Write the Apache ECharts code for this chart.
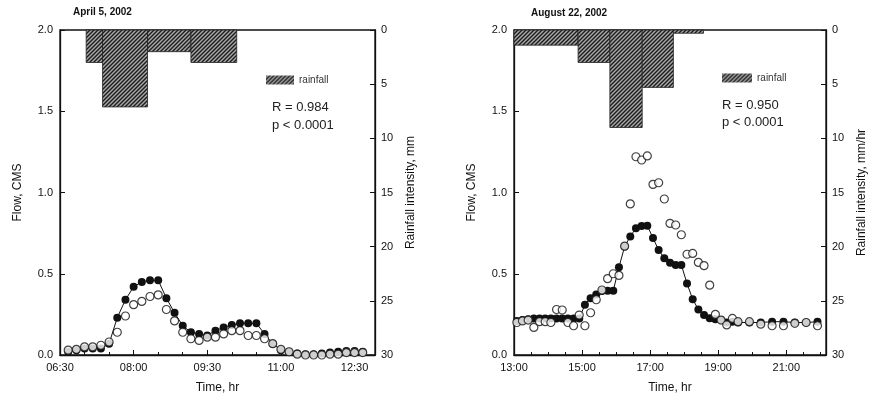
<!DOCTYPE html>
<html><head><meta charset="utf-8">
<script src="https://cdn.jsdelivr.net/npm/echarts@6/dist/echarts.min.js"></script>
<style>html,body{margin:0;padding:0;background:#fff}#c{width:872px;height:400px}</style>
</head><body><div id="c"></div>
<script>
// ---------- data ----------
const leftTimes = ['06:40','06:50','07:00','07:10','07:20','07:30','07:40','07:50','08:00','08:10','08:20','08:30','08:40','08:50','09:00','09:10','09:20','09:30','09:40','09:50','10:00','10:10','10:20','10:30','10:40','10:50','11:00','11:10','11:20','11:30','11:40','11:50','12:00','12:10','12:20','12:30','12:40'];
const leftFilled = [0.02,0.03,0.04,0.04,0.04,0.07,0.23,0.34,0.42,0.45,0.46,0.46,0.35,0.26,0.18,0.14,0.13,0.12,0.15,0.17,0.185,0.195,0.195,0.195,0.13,0.07,0.03,0.02,0.01,0.005,0.005,0.01,0.015,0.02,0.025,0.025,0.02];
const leftOpen = [0.03,0.035,0.05,0.05,0.06,0.08,0.14,0.24,0.31,0.33,0.36,0.37,0.28,0.21,0.14,0.10,0.09,0.11,0.11,0.13,0.15,0.15,0.12,0.12,0.10,0.07,0.035,0.02,0.005,0,0,0,0.005,0.005,0.015,0.015,0.015];
const leftRainStart = ['07:02','07:22','08:17','09:10'];
const leftRainEnd = ['07:22','08:17','09:10','10:06'];
const leftRain = [3, 7.1, 2, 3];

const rightTimes = ['13:05','13:15','13:25','13:35','13:45','13:55','14:05','14:15','14:25','14:35','14:45','14:55','15:05','15:15','15:25','15:35','15:45','15:55','16:05','16:15','16:25','16:35','16:45','16:55','17:05','17:15','17:25','17:35','17:45','17:55','18:05','18:15','18:25','18:35','18:45','18:55','19:05','19:15','19:25','19:35','19:55','20:15','20:35','20:55','21:15','21:35','21:55'];
const rightOpen = [0.20,0.21,0.215,0.17,0.205,0.205,0.20,0.28,0.277,0.20,0.18,0.246,0.18,0.26,0.34,0.40,0.47,0.50,0.49,0.67,0.93,1.22,1.20,1.225,1.05,1.06,0.96,0.81,0.80,0.74,0.62,0.625,0.57,0.55,0.43,0.25,0.215,0.185,0.225,0.205,0.205,0.19,0.18,0.18,0.195,0.20,0.18];
const rightFilled = [0.21,0.215,0.22,0.225,0.225,0.225,0.225,0.225,0.225,0.225,0.225,0.225,0.31,0.35,0.373,0.394,0.396,0.396,0.54,0.667,0.73,0.78,0.794,0.796,0.72,0.646,0.595,0.568,0.554,0.554,0.44,0.343,0.28,0.246,0.226,0.22,0.215,0.20,0.205,0.20,0.20,0.20,0.205,0.205,0.20,0.20,0.205];
const rightRainStart = ['13:00','14:53','15:49','16:46','17:41'];
const rightRainEnd = ['14:53','15:49','16:46','17:41','18:34'];
const rightRain = [1.4, 3.0, 9.0, 5.3, 0.3];

const flowTicks = [0, 0.5, 1.0, 1.5, 2.0];
const rainTicks = [0, 5, 10, 15, 20, 25, 30];

// ---------- helpers ----------
const F = '"Liberation Sans", Arial, sans-serif';
function toMin(t){const p=t.split(':').map(Number);return p[0]*60+p[1];}
function fmt(m){const h=Math.floor(m/60), mm=m%60;return String(h).padStart(2,'0')+':'+String(mm).padStart(2,'0');}
const L0 = toMin('06:30'), R0 = toMin('13:00');

const pc = document.createElement('canvas'); pc.width = 4; pc.height = 4;
const g = pc.getContext('2d');
g.fillStyle = '#a8a8a8'; g.fillRect(0,0,4,4);
g.strokeStyle = '#1c1c1c'; g.lineWidth = 1.4; g.beginPath();
g.moveTo(0,4); g.lineTo(4,0); g.moveTo(-1,1); g.lineTo(1,-1); g.moveTo(3,5); g.lineTo(5,3); g.stroke();
const hatch = {image: pc, repeat: 'repeat'};

function rainItem(params, api){
  const a = api.coord([api.value(0), 0]);
  const b = api.coord([api.value(1), api.value(2)]);
  return {type:'rect', shape:{x:a[0], y:a[1], width:b[0]-a[0], height:b[1]-a[1]},
          style:{fill:hatch, stroke:'#222', lineWidth:0.8}};
}

const axLine = {show:true, onZero:false, lineStyle:{color:'#111', width:1.3}};
const tick = {show:true, inside:true, length:5, lineStyle:{color:'#111', width:1}};
const lab = (m)=>({color:'#111', fontSize:11, fontFamily:F, margin:m});
const nameStyle = {color:'#111', fontSize:12, fontFamily:F};

function xAx(grid, max, step, split, base){
  return {type:'value', gridIndex:grid, min:0, max:max, interval:step,
    axisLine:axLine, axisTick:tick, splitLine:{show:false},
    minorTick:{show:true, splitNumber:split, length:3, lineStyle:{color:'#111'}},
    axisLabel:Object.assign(lab(7), {showMaxLabel:false, formatter:v=> (v % step === 0 ? fmt(base+v) : '')}),
    name:'Time, hr', nameLocation:'middle', nameGap:27, nameTextStyle:nameStyle};
}
function flowAx(grid){
  return {type:'value', gridIndex:grid, min:0, max:2, interval:0.5, position:'left',
    axisLine:axLine, axisTick:tick, splitLine:{show:false},
    axisLabel:Object.assign(lab(7), {formatter:v=> (flowTicks.indexOf(v)>=0 ? v.toFixed(1) : '')}),
    name:'Flow, CMS', nameLocation:'middle', nameGap:36, nameTextStyle:nameStyle};
}
function rainAx(grid, nm){
  return {type:'value', gridIndex:grid, min:0, max:30, interval:5, inverse:true, position:'right',
    axisLine:axLine, axisTick:tick, splitLine:{show:false},
    axisLabel:Object.assign(lab(6), {formatter:v=> (rainTicks.indexOf(v)>=0 ? String(v) : '')}),
    name:nm, nameLocation:'middle', nameGap:30, nameTextStyle:nameStyle};
}

const chart = echarts.init(document.getElementById('c'), null, {renderer:'canvas'});
chart.setOption({
  animation:false,
  backgroundColor:'#fff',
  textStyle:{fontFamily:F},
  title:[
    {text:'April 5, 2002', left:73, top:7, padding:0, textStyle:{fontSize:10, fontWeight:'bold', color:'#111', fontFamily:F}},
    {text:'August 22, 2002', left:531, top:8, padding:0, textStyle:{fontSize:10, fontWeight:'bold', color:'#111', fontFamily:F}},
    {text:'R = 0.984', left:272, top:101, padding:0, textStyle:{fontSize:13, fontWeight:'normal', color:'#222', fontFamily:F}},
    {text:'p < 0.0001', left:272, top:119, padding:0, textStyle:{fontSize:13, fontWeight:'normal', color:'#222', fontFamily:F}},
    {text:'R = 0.950', left:722, top:99, padding:0, textStyle:{fontSize:13, fontWeight:'normal', color:'#222', fontFamily:F}},
    {text:'p < 0.0001', left:722, top:116, padding:0, textStyle:{fontSize:13, fontWeight:'normal', color:'#222', fontFamily:F}}
  ],
  legend:[
    {data:['rainfall'], left:266, top:75, padding:0, itemWidth:28, itemHeight:9, itemGap:4, icon:'rect', selectedMode:false,
     textStyle:{fontSize:10, color:'#333', fontFamily:F}},
    {data:['rainfall'], left:722, top:73, padding:0, itemWidth:30, itemHeight:9, itemGap:4, icon:'rect', selectedMode:false,
     textStyle:{fontSize:10, color:'#333', fontFamily:F}}
  ],
  grid:[
    {left:60, right:497, top:30, bottom:45, show:true, borderColor:'#111', borderWidth:1.3, containLabel:false},
    {left:514, right:46, top:30, bottom:45, show:true, borderColor:'#111', borderWidth:1.3, containLabel:false}
  ],
  xAxis:[ xAx(0, 385, 90, 3, L0), xAx(1, 550, 120, 4, R0) ],
  yAxis:[ flowAx(0), rainAx(0, 'Rainfall intensity, mm'), flowAx(1), rainAx(1, 'Rainfall intensity, mm/hr') ],
  series:[
    {name:'rainfall', type:'custom', xAxisIndex:0, yAxisIndex:1, renderItem:rainItem, encode:{x:[0,1], y:2},
     itemStyle:{color:hatch},
     data:leftRain.map((v,i)=>[toMin(leftRainStart[i])-L0, toMin(leftRainEnd[i])-L0, v])},
    {name:'observed', type:'line', xAxisIndex:0, yAxisIndex:0, symbol:'circle', symbolSize:8, showSymbol:true,
     lineStyle:{color:'#111', width:1}, itemStyle:{color:'#111'}, z:3,
     data:leftFilled.map((v,i)=>[toMin(leftTimes[i])-L0, v])},
    {name:'model', type:'scatter', xAxisIndex:0, yAxisIndex:0, symbol:'circle', symbolSize:8, z:4,
     itemStyle:{color:'#fff', borderColor:'#111', borderWidth:1.2},
     data:leftOpen.map((v,i)=>[toMin(leftTimes[i])-L0, v])},
    {name:'rainfall', type:'custom', xAxisIndex:1, yAxisIndex:3, renderItem:rainItem, encode:{x:[0,1], y:2},
     itemStyle:{color:hatch},
     data:rightRain.map((v,i)=>[toMin(rightRainStart[i])-R0, toMin(rightRainEnd[i])-R0, v])},
    {name:'observed', type:'line', xAxisIndex:1, yAxisIndex:2, symbol:'circle', symbolSize:8, showSymbol:true,
     lineStyle:{color:'#111', width:1}, itemStyle:{color:'#111'}, z:3,
     data:rightFilled.map((v,i)=>[toMin(rightTimes[i])-R0, v])},
    {name:'model', type:'scatter', xAxisIndex:1, yAxisIndex:2, symbol:'circle', symbolSize:8, z:4,
     itemStyle:{color:'#fff', borderColor:'#111', borderWidth:1.2},
     data:rightOpen.map((v,i)=>[toMin(rightTimes[i])-R0, v])}
  ]
});
</script></body></html>
